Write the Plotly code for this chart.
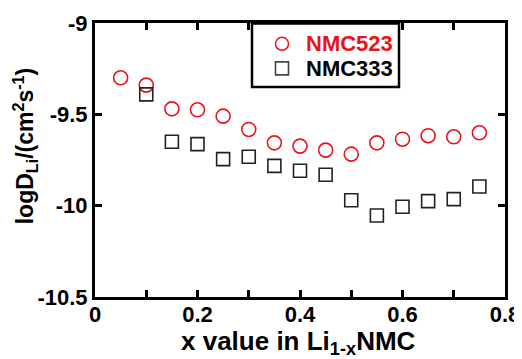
import plotly.graph_objects as go

x_523 = [0.05, 0.10, 0.15, 0.20, 0.25, 0.30, 0.35, 0.40, 0.45, 0.50, 0.55, 0.60, 0.65, 0.70, 0.75]
y_523 = [-9.30, -9.34, -9.47, -9.475, -9.51, -9.583, -9.656, -9.674, -9.696, -9.718, -9.656, -9.636, -9.617, -9.623, -9.601]
x_333 = [0.10, 0.15, 0.20, 0.25, 0.30, 0.35, 0.40, 0.45, 0.50, 0.55, 0.60, 0.65, 0.70, 0.75]
y_333 = [-9.391, -9.650, -9.663, -9.745, -9.732, -9.782, -9.809, -9.831, -9.970, -10.054, -10.006, -9.975, -9.964, -9.895]

series_names = ["NMC523", "NMC333"]

x_tickvals = [0, 0.1, 0.2, 0.3, 0.4, 0.5, 0.6, 0.7, 0.8]
x_ticktext = ["0", "", "0.2", "", "0.4", "", "0.6", "", "0.8"]
y_tickvals = [-10.5, -10, -9.5, -9]
y_ticktext = ["-10.5", "-10", "-9.5", "-9"]

FONT = "Liberation Sans, Arial, sans-serif"
RED = "#e8141a"
DARK = "#222222"

# The page body has an 8px margin, so the figure is drawn 8px in from the corner.
OFF = 8

fig = go.Figure()
fig.add_trace(go.Scatter(
    x=x_523, y=y_523, mode="markers", name=series_names[0], showlegend=False,
    marker=dict(symbol="circle-open", size=14, color=RED, line=dict(width=1.6, color=RED)),
))
fig.add_trace(go.Scatter(
    x=x_333, y=y_333, mode="markers", name=series_names[1], showlegend=False,
    marker=dict(symbol="square-open", size=13, color=DARK, line=dict(width=1.6, color=DARK)),
))

axis_common = dict(
    showline=True, linecolor="black", linewidth=3, mirror="ticks",
    ticks="inside", ticklen=7, tickwidth=2.5, tickcolor="black",
    showgrid=False, zeroline=False, automargin=False,
    tickfont=dict(family=FONT, size=22, color="black", weight="bold"),
)

# screen-pixel -> paper helpers (plot area on screen: x 95..505, y 22.5..297)
PW, PH, L, T = 410.0, 274.5, 95.0, 22.5
def px(xp):
    return (xp - L) / PW
def py(yp):
    return 1 - (yp - T) / PH

shapes = [
    dict(type="rect", xref="paper", yref="paper", x0=px(252), x1=px(399), y0=py(86.5), y1=py(23),
         line=dict(color="black", width=2.5), fillcolor="white", layer="above"),
    dict(type="circle", xref="paper", yref="paper", xsizemode="pixel", ysizemode="pixel",
         xanchor=px(282), yanchor=py(43.3), x0=-6.5, x1=6.5, y0=-6.5, y1=6.5,
         line=dict(color=RED, width=1.5), layer="above"),
    dict(type="rect", xref="paper", yref="paper", xsizemode="pixel", ysizemode="pixel",
         xanchor=px(282), yanchor=py(68), x0=-6.5, x1=6.5, y0=-6.5, y1=6.5,
         line=dict(color="#444444", width=1.6), layer="above"),
]

annotations = [
    dict(text="<b>" + series_names[0] + "</b>", xref="paper", yref="paper", x=px(304), y=py(43.5),
         xanchor="left", yanchor="middle", showarrow=False, font=dict(family=FONT, size=22, color=RED)),
    dict(text="<b>" + series_names[1] + "</b>", xref="paper", yref="paper", x=px(304), y=py(68.5),
         xanchor="left", yanchor="middle", showarrow=False, font=dict(family=FONT, size=22, color="black")),
    dict(text="<b>x value in Li<sub>1-x</sub>NMC</b>", xref="paper", yref="paper", x=px(298), y=py(343),
         xanchor="center", yanchor="middle", showarrow=False, font=dict(family=FONT, size=26, color="black")),
    dict(text="<b>logD<sub>Li</sub>/(cm<sup>2</sup>s<sup>-1</sup>)</b>", xref="paper", yref="paper",
         x=px(25), y=py(146), xanchor="center", yanchor="middle", textangle=-90, showarrow=False,
         font=dict(family=FONT, size=23, color="black")),
]

fig.update_layout(
    width=522 - OFF, height=359 - OFF,
    margin=dict(l=95 - OFF, r=17, t=22.5 - OFF, b=359 - 297 - 0.5),
    paper_bgcolor="white", plot_bgcolor="white",
    showlegend=False,
    shapes=shapes,
    annotations=annotations,
    xaxis=dict(range=[0, 0.8], tickvals=x_tickvals, ticktext=x_ticktext, ticklabelstandoff=-4, **axis_common),
    yaxis=dict(range=[-10.5, -9], tickvals=y_tickvals, ticktext=y_ticktext, **axis_common),
)

fig.write_html("out.html")
